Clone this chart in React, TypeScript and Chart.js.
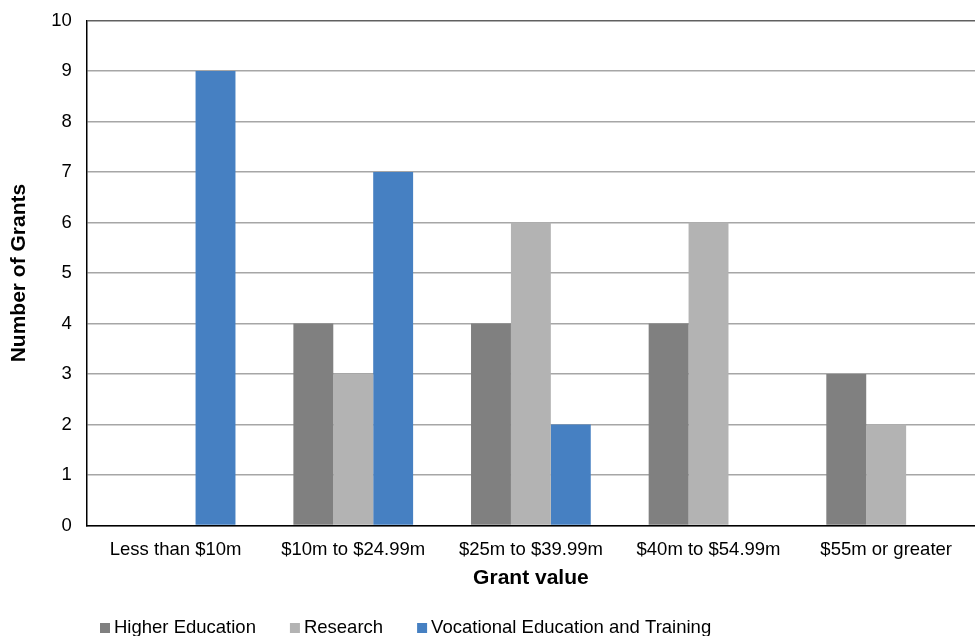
import React, { useEffect, useRef } from "react";
import { Chart, registerables } from "chart.js";

Chart.register(...registerables);

const categories = [
  "Less than $10m",
  "$10m to $24.99m",
  "$25m to $39.99m",
  "$40m to $54.99m",
  "$55m or greater",
];
const higherEducation = [0, 4, 4, 4, 3];
const research = [0, 3, 6, 6, 2];
const vocational = [9, 7, 2, 0, 0];
const seriesNames = ["Higher Education", "Research", "Vocational Education and Training"];
const seriesColors = ["#808080", "#b3b3b3", "#4680c2"];

const FONT = "'Liberation Sans', Arial, sans-serif";

const legendPlugin = {
  id: "customLegend",
  afterDraw(chart: any) {
    const ctx = chart.ctx;
    ctx.save();
    ctx.font = `18.5px ${FONT}`;
    ctx.textBaseline = "middle";
    ctx.textAlign = "left";
    let x = 100;
    const y = 628;
    chart.data.datasets.forEach((ds: any) => {
      ctx.fillStyle = ds.backgroundColor;
      ctx.fillRect(x, y - 5, 10, 10);
      ctx.fillStyle = "#000";
      ctx.fillText(ds.label, x + 14, y);
      x += 14 + ctx.measureText(ds.label).width + 34;
    });
    ctx.restore();
  },
};

export default function App() {
  const ref = useRef<HTMLCanvasElement>(null);
  useEffect(() => {
    if (!ref.current) return;
    const data = [higherEducation, research, vocational];
    const chart = new Chart(ref.current, {
      type: "bar",
      data: {
        labels: categories,
        datasets: seriesNames.map((name, i) => ({
          label: name,
          data: data[i],
          backgroundColor: seriesColors[i],
          borderWidth: 0,
          categoryPercentage: 0.674,
          barPercentage: 1,
        })),
      },
      options: {
        responsive: false,
        animation: false,
        maintainAspectRatio: false,
        layout: { padding: { left: 7, right: 0, top: 0, bottom: 45 } },
        plugins: {
          legend: { display: false },
          tooltip: { enabled: false },
        },
        scales: {
          x: {
            grid: { display: false, drawTicks: false },
            border: { display: true, color: "#000", width: 1.5 },
            ticks: { color: "#000", font: { family: FONT, size: 18.5 }, padding: 13, maxRotation: 0 },
            title: {
              display: true,
              text: "Grant value",
              color: "#000",
              font: { family: FONT, size: 21, weight: "bold" },
              padding: { top: -8, bottom: 0 },
            },
          },
          y: {
            min: 0,
            max: 10,
            grid: {
              drawTicks: false,
              color: (c: any) => (c.tick && c.tick.value === 10 ? "#606060" : "#a6a6a6"),
              lineWidth: 1.5,
            },
            border: { display: true, color: "#000", width: 1.5 },
            ticks: {
              stepSize: 1,
              color: "#000",
              font: { family: FONT, size: 18.5, lineHeight: 0.6 },
              padding: 15,
            },
            title: {
              display: true,
              text: "Number of Grants",
              color: "#000",
              font: { family: FONT, size: 21, weight: "bold" },
              padding: { top: 0, bottom: 4 },
            },
          },
        },
      },
      plugins: [legendPlugin],
    });
    return () => chart.destroy();
  }, []);
  return (
    <div style={{ position: "fixed", left: 0, top: 0, width: 975, height: 636, background: "#fff" }}>
      <canvas ref={ref} width={975} height={636} style={{ display: "block" }} />
    </div>
  );
}
